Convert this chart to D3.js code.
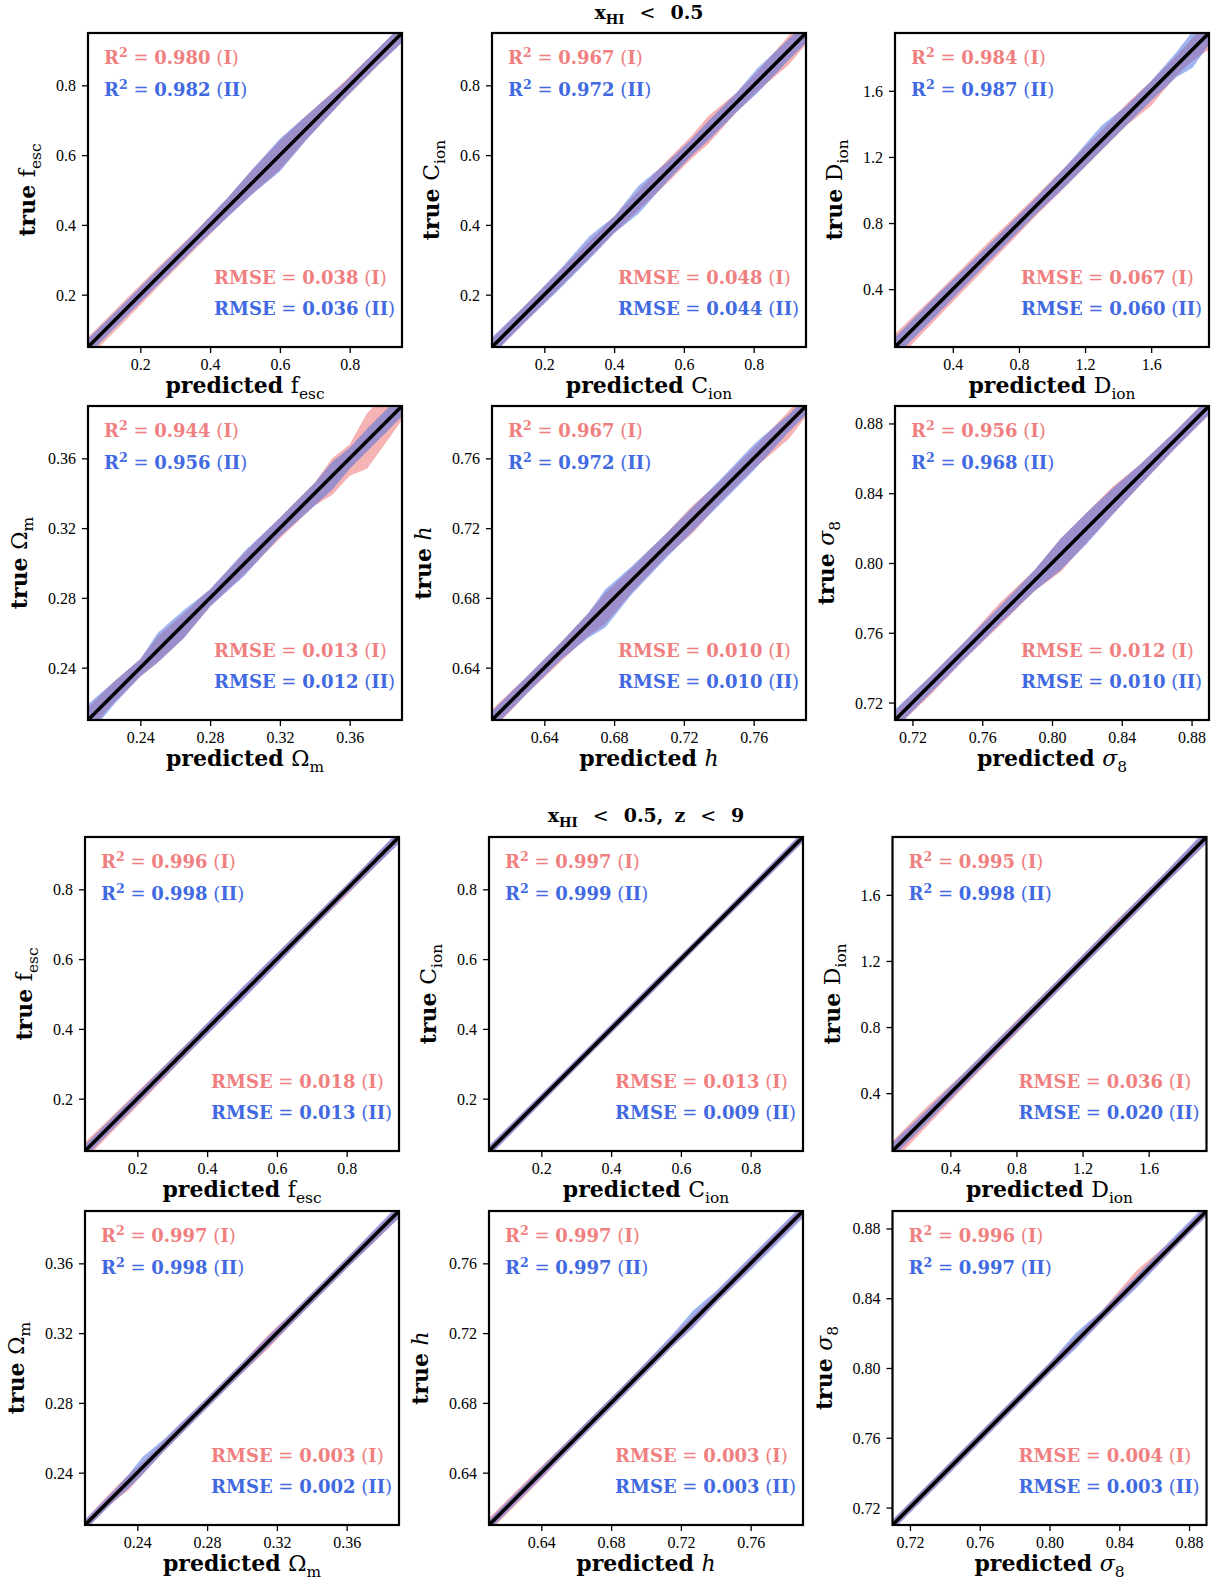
<!DOCTYPE html>
<html>
<head>
<meta charset="utf-8">
<script src="https://cdn.jsdelivr.net/npm/d3@7"></script>
<style>
  body { margin: 0; background: #fff; }
  svg { display: block; }
</style>
</head>
<body>
<svg id="fig" width="1218" height="1585"></svg>
<script>
// parameters, in panel order (row by row)
const paramNames = ["fesc", "Cion", "Dion", "Om", "h", "s8"];
const domains = [[0.05, 0.95], [0.05, 0.95], [0.05, 1.95], [0.21, 0.39], [0.61, 0.79], [0.71, 0.89]];
const tickValues = [
  [0.2, 0.4, 0.6, 0.8],
  [0.2, 0.4, 0.6, 0.8],
  [0.4, 0.8, 1.2, 1.6],
  [0.24, 0.28, 0.32, 0.36],
  [0.64, 0.68, 0.72, 0.76],
  [0.72, 0.76, 0.8, 0.84, 0.88]
];
const tickFormats = [".1f", ".1f", ".1f", ".2f", ".2f", ".2f"];

// scores, top block (x_HI < 0.5)
const r2I_all = ["0.980", "0.967", "0.984", "0.944", "0.967", "0.956"];
const r2II_all = ["0.982", "0.972", "0.987", "0.956", "0.972", "0.968"];
const rmseI_all = ["0.038", "0.048", "0.067", "0.013", "0.010", "0.012"];
const rmseII_all = ["0.036", "0.044", "0.060", "0.012", "0.010", "0.010"];
// scores, bottom block (x_HI < 0.5, z < 9)
const r2I_z9 = ["0.996", "0.997", "0.995", "0.997", "0.997", "0.996"];
const r2II_z9 = ["0.998", "0.999", "0.998", "0.998", "0.997", "0.997"];
const rmseI_z9 = ["0.018", "0.013", "0.036", "0.003", "0.003", "0.004"];
const rmseII_z9 = ["0.013", "0.009", "0.020", "0.002", "0.003", "0.003"];

// bands: [predicted, lowI, highI, lowII, highII] as offsets of true from predicted
const fescA = [[0.05,-0.032,0.028,-0.022,0.024],[0.15,-0.032,0.028,-0.022,0.022],[0.25,-0.028,0.028,-0.022,0.022],[0.35,-0.027,0.024,-0.022,0.022],[0.45,-0.027,0.027,-0.028,0.028],[0.52,-0.032,0.037,-0.033,0.038],[0.6,-0.042,0.042,-0.047,0.047],[0.68,-0.032,0.037,-0.032,0.037],[0.78,-0.024,0.027,-0.024,0.024],[0.88,-0.024,0.024,-0.024,0.024],[0.95,-0.027,0.024,-0.027,0.024]];
const cionA = [[0.05,-0.024,0.024,-0.024,0.028],[0.15,-0.024,0.024,-0.024,0.024],[0.25,-0.024,0.024,-0.028,0.028],[0.33,-0.024,0.024,-0.028,0.038],[0.4,-0.024,0.024,-0.024,0.024],[0.47,-0.028,0.028,-0.038,0.042],[0.55,-0.032,0.033,-0.028,0.028],[0.62,-0.032,0.033,-0.024,0.024],[0.67,-0.038,0.042,-0.028,0.028],[0.75,-0.028,0.028,-0.028,0.028],[0.81,-0.028,0.028,-0.033,0.038],[0.9,-0.042,0.042,-0.028,0.033],[0.95,-0.033,0.033,-0.028,0.028]];
const dionA = [[0.05,-0.09,0.08,-0.06,0.06],[0.3,-0.08,0.07,-0.06,0.06],[0.6,-0.07,0.07,-0.05,0.05],[0.9,-0.06,0.06,-0.05,0.05],[1.1,-0.06,0.06,-0.06,0.06],[1.3,-0.06,0.06,-0.06,0.09],[1.45,-0.06,0.07,-0.06,0.06],[1.6,-0.09,0.06,-0.06,0.06],[1.75,-0.06,0.06,-0.07,0.08],[1.85,-0.07,0.07,-0.11,0.11],[1.95,-0.1,0.07,-0.07,0.07]];
const omA = [[0.21,-0.007,0.007,-0.009,0.009],[0.225,-0.005,0.007,-0.006,0.007],[0.24,-0.005,0.005,-0.005,0.005],[0.25,-0.007,0.008,-0.007,0.01],[0.265,-0.008,0.006,-0.008,0.008],[0.28,-0.005,0.005,-0.005,0.005],[0.3,-0.006,0.006,-0.007,0.007],[0.32,-0.006,0.006,-0.005,0.006],[0.34,-0.007,0.006,-0.007,0.006],[0.35,-0.011,0.01,-0.008,0.008],[0.36,-0.01,0.008,-0.006,0.006],[0.37,-0.016,0.016,-0.006,0.007],[0.38,-0.012,0.016,-0.006,0.007],[0.39,-0.008,0.013,-0.006,0.006]];
const hA = [[0.61,-0.006,0.006,-0.005,0.005],[0.63,-0.005,0.005,-0.005,0.005],[0.65,-0.006,0.005,-0.005,0.005],[0.665,-0.007,0.006,-0.008,0.006],[0.675,-0.01,0.008,-0.012,0.01],[0.69,-0.007,0.007,-0.008,0.008],[0.71,-0.006,0.007,-0.007,0.007],[0.725,-0.008,0.008,-0.007,0.007],[0.74,-0.006,0.006,-0.007,0.007],[0.76,-0.006,0.006,-0.007,0.008],[0.78,-0.009,0.007,-0.005,0.005],[0.79,-0.006,0.009,-0.005,0.005]];
const s8A = [[0.71,-0.005,0.005,-0.005,0.006],[0.73,-0.006,0.005,-0.005,0.005],[0.75,-0.005,0.005,-0.005,0.005],[0.77,-0.006,0.007,-0.005,0.005],[0.79,-0.006,0.006,-0.006,0.006],[0.805,-0.01,0.009,-0.009,0.009],[0.82,-0.008,0.009,-0.009,0.009],[0.835,-0.007,0.009,-0.007,0.008],[0.85,-0.006,0.006,-0.006,0.006],[0.87,-0.005,0.005,-0.005,0.005],[0.89,-0.005,0.005,-0.005,0.005]];

const fescB = [[0.05,-0.025,0.025,-0.018,0.018],[0.2,-0.022,0.02,-0.016,0.016],[0.35,-0.016,0.016,-0.016,0.016],[0.5,-0.016,0.016,-0.019,0.019],[0.65,-0.014,0.016,-0.016,0.016],[0.8,-0.018,0.014,-0.014,0.014],[0.95,-0.016,0.016,-0.019,0.019]];
const cionB = [[0.05,-0.014,0.014,-0.016,0.016],[0.2,-0.012,0.012,-0.014,0.014],[0.35,-0.012,0.012,-0.012,0.014],[0.5,-0.012,0.012,-0.014,0.014],[0.65,-0.012,0.012,-0.012,0.012],[0.8,-0.012,0.012,-0.014,0.014],[0.95,-0.014,0.014,-0.014,0.016]];
const dionB = [[0.05,-0.07,0.06,-0.04,0.05],[0.25,-0.06,0.06,-0.04,0.04],[0.5,-0.045,0.04,-0.035,0.04],[0.8,-0.04,0.04,-0.035,0.035],[1.1,-0.035,0.035,-0.035,0.035],[1.4,-0.035,0.04,-0.035,0.035],[1.7,-0.035,0.035,-0.035,0.035],[1.95,-0.04,0.04,-0.04,0.05]];
const omB = [[0.21,-0.003,0.003,-0.003,0.003],[0.225,-0.003,0.004,-0.003,0.003],[0.235,-0.005,0.004,-0.004,0.004],[0.243,-0.004,0.003,-0.004,0.006],[0.255,-0.003,0.003,-0.003,0.004],[0.28,-0.003,0.003,-0.003,0.003],[0.3,-0.003,0.003,-0.003,0.003],[0.315,-0.004,0.004,-0.003,0.003],[0.33,-0.003,0.003,-0.003,0.003],[0.36,-0.003,0.003,-0.003,0.003],[0.39,-0.004,0.003,-0.004,0.004]];
const hB = [[0.61,-0.004,0.004,-0.003,0.003],[0.63,-0.004,0.004,-0.003,0.003],[0.66,-0.003,0.003,-0.003,0.003],[0.69,-0.003,0.003,-0.003,0.003],[0.715,-0.003,0.003,-0.003,0.004],[0.727,-0.003,0.003,-0.004,0.006],[0.74,-0.003,0.003,-0.003,0.004],[0.76,-0.003,0.003,-0.004,0.004],[0.79,-0.003,0.003,-0.004,0.004]];
const s8B = [[0.71,-0.003,0.003,-0.003,0.003],[0.74,-0.003,0.003,-0.003,0.003],[0.77,-0.003,0.003,-0.003,0.003],[0.8,-0.003,0.003,-0.003,0.003],[0.815,-0.003,0.003,-0.004,0.005],[0.83,-0.003,0.003,-0.003,0.003],[0.85,-0.003,0.006,-0.004,0.003],[0.87,-0.003,0.003,-0.003,0.004],[0.89,-0.003,0.003,-0.003,0.004]];

const RED = "#f08080", BLUE = "#4169e1";
const SIZE = 314;
const SERIF = "DejaVu Serif";

// label symbol for each parameter (rich text parts)
const symbols = [
  [{ t: "f" }, { t: "esc", sub: true }],
  [{ t: "C" }, { t: "ion", sub: true }],
  [{ t: "D" }, { t: "ion", sub: true }],
  [{ t: "\u03A9" }, { t: "m", sub: true }],
  [{ t: "h", italic: true }],
  [{ t: "\u03C3", italic: true }, { t: "8", sub: true }]
];

const blocks = [
  {
    title: [{ t: "x", b: 1 }, { t: "HI", b: 1, sub: true }, { t: "<", dx: 15 }, { t: "0.5", b: 1, dx: 15 }],
    titleY: 19, cols: [88, 492, 895], rows: [33, 406],
    r2I: r2I_all, r2II: r2II_all, rmseI: rmseI_all, rmseII: rmseII_all,
    bands: [fescA, cionA, dionA, omA, hA, s8A]
  },
  {
    title: [{ t: "x", b: 1 }, { t: "HI", b: 1, sub: true }, { t: "<", dx: 15 }, { t: "0.5,", b: 1, dx: 15 },
            { t: "z", b: 1, dx: 11 }, { t: "<", dx: 15 }, { t: "9", b: 1, dx: 15 }],
    titleY: 822, cols: [85, 489, 892.5], rows: [837, 1211],
    r2I: r2I_z9, r2II: r2II_z9, rmseI: rmseI_z9, rmseII: rmseII_z9,
    bands: [fescB, cionB, dionB, omB, hB, s8B]
  }
];

const svg = d3.select("#fig");

// text with bold / sub / sup pieces
function rich(sel, parts, size) {
  const t = sel.append("text").attr("font-family", SERIF).attr("font-size", size);
  let shift = 0;
  parts.forEach((p) => {
    const target = p.sub ? size * 0.28 : p.sup ? -size * 0.4 : 0;
    const ts = t.append("tspan")
      .text(p.t)
      .attr("font-size", p.sub || p.sup ? size * 0.7 : size)
      .attr("dy", target - shift);
    shift = target;
    if (p.b) ts.attr("font-weight", "bold");
    if (p.italic) ts.attr("font-style", "italic");
    if (p.dx) ts.attr("dx", p.dx);
  });
  return t;
}

function scoreParts(name, value, model, sup) {
  const parts = [{ t: name, b: 1 }];
  if (sup) parts.push({ t: "2", b: 1, sup: true });
  parts.push({ t: " = " }, { t: value, b: 1 }, { t: " (" }, { t: model, b: 1 }, { t: ")" });
  return parts;
}

let clipId = 0;
blocks.forEach((block) => {
  const midX = block.cols[1] + SIZE / 2;
  rich(svg, block.title, 19).attr("x", midX).attr("y", block.titleY).attr("text-anchor", "middle");

  paramNames.forEach((name, i) => {
    const left = block.cols[i % 3], top = block.rows[Math.floor(i / 3)];
    const g = svg.append("g").attr("transform", `translate(${left},${top})`);
    const x = d3.scaleLinear().domain(domains[i]).range([0, SIZE]);
    const y = d3.scaleLinear().domain(domains[i]).range([SIZE, 0]);

    const cid = "clip" + clipId++;
    g.append("clipPath").attr("id", cid).append("rect").attr("width", SIZE).attr("height", SIZE);
    const plot = g.append("g").attr("clip-path", `url(#${cid})`);

    const band = block.bands[i];
    const areaI = d3.area().x((d) => x(d[0])).y0((d) => y(d[0] + d[1])).y1((d) => y(d[0] + d[2]));
    const areaII = d3.area().x((d) => x(d[0])).y0((d) => y(d[0] + d[3])).y1((d) => y(d[0] + d[4]));
    plot.append("path").attr("d", areaI(band)).attr("fill", RED).attr("fill-opacity", 0.6);
    plot.append("path").attr("d", areaII(band)).attr("fill", BLUE).attr("fill-opacity", 0.5);

    plot.append("line")
      .attr("x1", x(domains[i][0])).attr("y1", y(domains[i][0]))
      .attr("x2", x(domains[i][1])).attr("y2", y(domains[i][1]))
      .attr("stroke", "#000").attr("stroke-width", 3.5);

    // axes
    const fmt = d3.format(tickFormats[i]);
    const xAxis = g.append("g").attr("transform", `translate(0,${SIZE})`)
      .call(d3.axisBottom(x).tickValues(tickValues[i]).tickFormat(fmt).tickSize(6).tickPadding(6));
    const yAxis = g.append("g")
      .call(d3.axisLeft(y).tickValues(tickValues[i]).tickFormat(fmt).tickSize(6).tickPadding(6));
    [xAxis, yAxis].forEach((a) => {
      a.select(".domain").remove();
      a.selectAll("line").attr("stroke-width", 1.3);
      a.selectAll("text").attr("font-family", "Liberation Serif").attr("font-size", 16).attr("fill", "#000");
    });
    xAxis.selectAll("text").attr("dy", "0.71em");
    yAxis.selectAll("text").attr("dy", "0.34em");

    g.append("rect").attr("width", SIZE).attr("height", SIZE)
      .attr("fill", "none").attr("stroke", "#000").attr("stroke-width", 2.2);

    // scores
    rich(g, scoreParts("R", block.r2I[i], "I", true), 18).attr("x", 16).attr("y", 31).attr("fill", RED);
    rich(g, scoreParts("R", block.r2II[i], "II", true), 18).attr("x", 16).attr("y", 63).attr("fill", BLUE);
    rich(g, scoreParts("RMSE", block.rmseI[i], "I"), 18).attr("x", 126).attr("y", 251).attr("fill", RED);
    rich(g, scoreParts("RMSE", block.rmseII[i], "II"), 18).attr("x", 126).attr("y", 282).attr("fill", BLUE);

    // axis labels
    rich(g, [{ t: "predicted ", b: 1 }].concat(symbols[i]), 22)
      .attr("x", SIZE / 2).attr("y", SIZE + 46).attr("text-anchor", "middle");

    let minLeft = 0;
    yAxis.selectAll("text").each(function () {
      minLeft = Math.min(minLeft, this.getBBox().x - 6);
    });
    rich(g, [{ t: "true ", b: 1 }].concat(symbols[i]), 22)
      .attr("text-anchor", "middle")
      .attr("transform", `translate(${minLeft - 15},${SIZE / 2}) rotate(-90)`);
  });
});
</script>
</body>
</html>
